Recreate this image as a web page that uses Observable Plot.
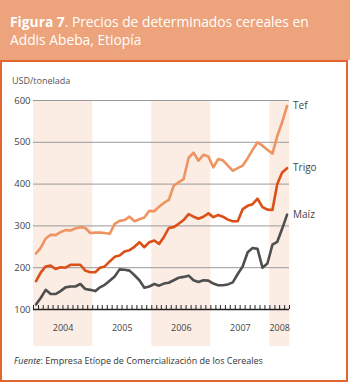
<!DOCTYPE html>
<html><head><meta charset="utf-8">
<script src="https://cdn.jsdelivr.net/npm/d3@7"></script>
<script src="https://cdn.jsdelivr.net/npm/@observablehq/plot@0.6"></script>
<style>
body{margin:0;background:#fff;}
#wrap{position:relative;width:350px;height:382px;overflow:hidden;font-family:"Open Sans",sans-serif;background:#fff;}
#head{position:absolute;left:0;top:0;width:350px;height:60px;background:#EDA37B;}
#title{position:absolute;left:10px;top:13px;color:#fff;font-size:13.8px;line-height:17.5px;white-space:nowrap;}
#box{position:absolute;left:0;top:60px;width:344px;height:318px;border:2px solid #E5652E;}
#unit{position:absolute;left:12px;top:74px;font-size:9px;color:#555;}
#chart{position:absolute;left:0;top:70px;}
#src{position:absolute;left:14px;top:354px;font-size:9px;color:#333;white-space:nowrap;}
</style></head>
<body>
<div id="wrap">
  <div id="head"><div id="title"><b>Figura 7</b>. Precios de determinados cereales en<br>Addis Abeba, Etiopía</div></div>
  <div id="box"></div>
  <div id="unit">USD/tonelada</div>
  <div id="chart"></div>
  <div id="src"><i>Fuente</i>: Empresa Etíope de Comercialización de los Cereales</div>
</div>
<script>
// Monthly prices, January 2004 – April 2008 (USD/tonelada)
const tef = [234,248,270,279,278,285,290,289,294,297,295,283,284,284,283,281,
             305,312,314,322,311,316,320,336,335,346,355,362,
             396,404,412,463,475,456,470,466,440,460,457,444,432,438,
             444,462,482,500,492,482,473,515,548,587];
const trigo = [168,189,203,205,197,201,200,207,207,207,
               193,189,189,200,203,215,226,229,239,242,
               250,261,249,261,265,257,273,295,297,305,
               314,328,322,317,322,330,321,326,322,315,
               311,311,340,348,352,365,345,339,338,400,
               428,438];
const maiz = [112,128,147,137,137,144,153,155,155,161,
              149,147,144,153,159,169,179,196,195,193,
              182,170,152,155,161,157,162,164,170,176,
              178,181,170,166,170,169,162,158,158,160,
              165,185,203,237,247,245,200,210,255,262,
              293,327];
const seriesNames = ["Tef", "Trigo", "Maíz"];
const seriesColors = ["#EE9462", "#DC4F17", "#4F4F4F"];
const yTicks = [100, 200, 300, 400, 500, 600];
const years = [2004, 2005, 2006, 2007, 2008];
const shadedYears = [2004, 2006, 2008];

const start = new Date(Date.UTC(2004, 0, 1));
const end = new Date(Date.UTC(2008, 4, 1));
const monthStarts = d3.utcMonth.range(start, end);
const monthMid = monthStarts.map(m => new Date((+m + +d3.utcMonth.offset(m, 1)) / 2));
const tickMonths = d3.utcMonth.range(start, d3.utcDay.offset(end, 1));

const allSeries = [tef, trigo, maiz];
const rows = allSeries.flatMap((vals, s) => vals.map((v, i) => ({date: monthMid[i], value: v, series: seriesNames[s]})));
const lastRows = allSeries.map((vals, s) => ({date: monthMid[vals.length - 1], value: vals[vals.length - 1], series: seriesNames[s]}));

const yearStart = y => new Date(Date.UTC(y, 0, 1));
const yearEnd = y => new Date(Math.min(+yearStart(y + 1), +end));
const bands = shadedYears.map(y => ({x1: yearStart(y), x2: yearEnd(y)}));
const yearLabels = years.map(y => ({x: new Date((+yearStart(y) + +yearEnd(y)) / 2), label: String(y)}));

const tickLen = 9.5; // in data units (~4px)

const chart = Plot.plot({
  width: 346,
  height: 290,
  marginTop: 30,
  marginLeft: 33,
  marginRight: 57,
  marginBottom: 14,
  style: {fontFamily: '"Open Sans", sans-serif', background: "transparent", overflow: "visible"},
  x: {type: "utc", domain: [start, end], axis: null},
  y: {domain: [100, 600], range: [239, 30]},
  color: {domain: seriesNames, range: seriesColors},
  marks: [
    Plot.rect(bands, {x1: "x1", x2: "x2", fill: "#FBEDE4"}),
    Plot.ruleY(yTicks.filter(t => t > 100), {stroke: "#9a9a9a", strokeWidth: 1}),
    Plot.axisY({ticks: yTicks, tickSize: 0, tickPadding: 3, fontSize: 9.5, fill: "#444", label: null}),
    Plot.text(yearLabels, {x: "x", text: "label", frameAnchor: "bottom", dy: -16, fontSize: 9, fill: "#444"}),
    Plot.line(rows, {x: "date", y: "value", z: "series", stroke: "series", strokeWidth: 2.6, strokeLinejoin: "round", strokeLinecap: "round"}),
    Plot.ruleY([100], {stroke: "#222", strokeWidth: 1.5}),
    Plot.ruleX(tickMonths, {x: d => d, y1: 100, y2: 100 + tickLen, stroke: "#222", strokeWidth: 1}),
    Plot.text(lastRows, {x: "date", y: "value", text: "series", dx: 6, textAnchor: "start", fontSize: 10, fill: "#444"})
  ]
});
document.getElementById("chart").appendChild(chart);
</script>
</body></html>
